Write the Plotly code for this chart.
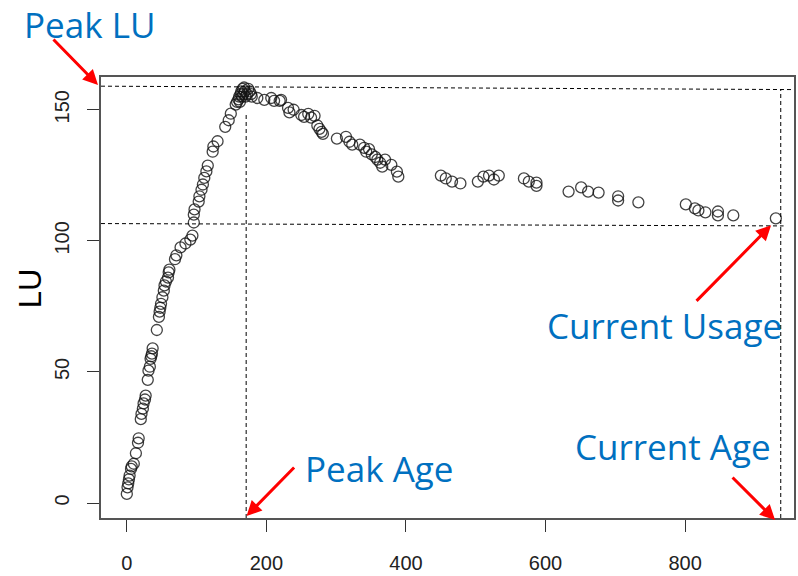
import plotly.graph_objects as go

# ---- data ----
age = [0, 1, 2, 3, 4, 6, 7, 10, 13, 16, 17, 20, 21, 23, 24, 26, 27, 30, 31, 33,
       34, 35, 36, 37, 43, 46, 47, 48, 49, 51, 53, 54, 56, 59, 60, 61, 69, 71, 77, 84,
       91, 94, 96, 96, 97, 103, 104, 107, 109, 111, 114, 116, 123, 124, 130, 141, 146, 149, 156, 158,
       160, 161, 162, 163, 164, 165, 166, 167, 168, 169, 170, 172, 174, 176, 178,
       179, 187, 197, 207, 211, 219, 221, 231, 233, 239, 250, 254, 260, 264, 269, 273, 276, 279, 281,
       301, 314, 319, 323, 334, 340, 343, 347, 351, 356, 359, 363, 366, 370, 379, 387, 389,
       450, 457, 466, 478, 503, 511, 519, 526, 533, 569, 576, 587, 587, 633, 651, 661, 676,
       704, 704, 733, 801, 814, 819, 829, 847, 847, 869, 930]
lu = [3.5, 6, 7.5, 9, 10.5, 13, 14, 15, 19, 23, 24.7, 32, 34, 36, 38, 39.5, 41, 47, 50.5, 52,
      55, 56, 57, 59, 66, 71, 73, 74.5, 76, 78.5, 81, 83, 84.5, 86, 88, 89, 93, 94.5, 97.5, 99,
      100.5, 102, 107, 110, 112, 115, 117, 119.5, 121.5, 124, 126.5, 128.7, 134, 136, 138, 143.5, 146, 148.5, 152, 153,
      154, 155, 153, 156, 157, 155, 158, 156, 158.5, 157, 155, 156, 158, 157, 156,
      155, 154.5, 153.8, 154.5, 153.4, 153.4, 153.8, 150.7, 149, 150, 148, 147.3, 148.4, 147, 147.7, 144, 142.7, 141.6, 140.8,
      139, 139.7, 137.8, 136.7, 136.7, 135.5, 134, 135, 133, 132, 131, 129.8, 128.3, 131, 129, 126.4, 124.5,
      124.9, 123.8, 122.6, 121.9, 122.6, 124.5, 124.9, 123.4, 124.9, 123.8, 122.6, 122.2, 121, 118.8, 120.4, 118.8, 118.4,
      117, 115.4, 114.7, 113.9, 112.4, 111.6, 110.9, 111.2, 109.7, 109.7, 108.6]

x_ticks = [0, 200, 400, 600, 800]
y_ticks = [0, 50, 100, 150]
x_range = [-37, 956]
y_range = [-5.7, 162.5]

peak_lu = max(lu)
current_lu_line = 106.3
peak_age = 171
current_age = 937

# ---- figure ----
fig = go.Figure()
fig.add_trace(go.Scatter(
    x=age, y=lu, mode="markers",
    marker=dict(symbol="circle-open", size=11, color="rgba(20,20,20,0.8)",
                line=dict(width=1.3, color="rgba(20,20,20,0.8)")),
    showlegend=False, cliponaxis=False))

dash = dict(color="black", width=1, dash="4px,3px")
fig.add_shape(type="line", xref="paper", yref="y", x0=0, x1=1, y0=peak_lu + 0.5, y1=peak_lu - 0.8, line=dash)
fig.add_shape(type="line", xref="paper", yref="y", x0=0, x1=0.985, y0=current_lu_line + 0.3, y1=current_lu_line - 0.6, line=dash)
fig.add_shape(type="line", xref="x", yref="y", x0=peak_age, x1=peak_age, y0=y_range[0], y1=148, line=dash)
fig.add_shape(type="line", xref="x", yref="y", x0=current_age, x1=current_age, y0=y_range[0], y1=peak_lu - 0.8, line=dash)

# page-pixel -> paper helpers for annotations (plot area on the page: x 101..796, y 77..520)
L, R, T, B = 101, 796, 77, 520
def px(x):
    return (x - L) / (R - L)
def py(y):
    return (B - y) / (B - T)

blue = "#0070C0"
tfont = dict(family="Open Sans", size=35, color=blue)
texts = [("Peak LU", 89, 24), ("Peak Age", 380, 470), ("Current Usage", 666, 327), ("Current Age", 675, 448)]
for t, x, y in texts:
    fig.add_annotation(text=t, x=px(x), y=py(y), xref="paper", yref="paper",
                       xanchor="center", yanchor="middle", showarrow=False, font=tfont)

arrows = [((52, 38), (98, 85)), ((296, 468), (247, 518)), ((697, 303), (773, 226)), ((733, 478), (777, 522))]
for (tx, ty), (hx, hy) in arrows:
    fig.add_annotation(text="", x=px(hx), y=py(hy), xref="paper", yref="paper",
                       ax=tx - hx, ay=ty - hy, axref="pixel", ayref="pixel",
                       showarrow=True, arrowhead=2, arrowsize=1, arrowwidth=3, arrowcolor="#FF0000")

# y-axis title
fig.add_annotation(text="LU", x=px(30), y=py(289), xref="paper", yref="paper",
                   xanchor="center", yanchor="middle", showarrow=False, textangle=-90,
                   font=dict(family="Liberation Sans", size=31, color="black"))

axis_common = dict(showgrid=False, zeroline=False, showline=True, mirror=True,
                   linecolor="#555", linewidth=1.5, ticks="outside", ticklen=12,
                   tickcolor="#333", tickwidth=1,
                   tickfont=dict(family="Liberation Sans", size=20, color="#222"))
fig.update_xaxes(range=x_range, tickvals=x_ticks, ticklabelstandoff=14, **axis_common)
fig.update_yaxes(range=y_range, tickvals=y_ticks, tickangle=-90, ticklabelstandoff=10, **axis_common)

fig.update_layout(width=798, height=576, margin=dict(l=101, r=2, t=77, b=56),
                  plot_bgcolor="white", paper_bgcolor="white", hovermode=False)

# remove the default 8px page margin so the figure fills the window exactly
fig.write_html("out.html", config={"displayModeBar": False},
               post_script="document.body.style.margin='0px';")
